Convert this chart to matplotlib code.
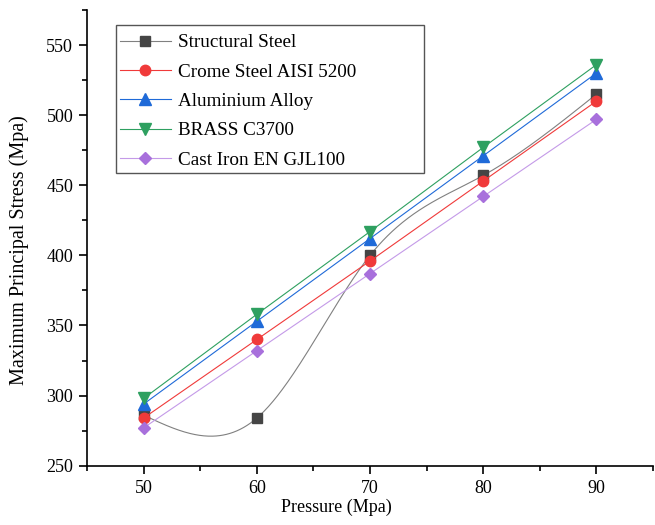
import numpy as np
import matplotlib
matplotlib.use("Agg")
import matplotlib.pyplot as plt
from matplotlib.patches import Rectangle
from matplotlib.ticker import MultipleLocator

plt.rcParams['font.family'] = ['Liberation Serif', 'DejaVu Serif']

pressure = [50, 60, 70, 80, 90]
structural_steel = [286, 284, 400, 457, 515]
crome_steel = [284, 340, 396, 453, 510]
aluminium_alloy = [294, 353, 412, 471, 530]
brass_c3700 = [298, 358, 417, 477, 536]
cast_iron = [277, 332, 387, 442, 497]

labels = ["Structural Steel", "Crome Steel AISI 5200", "Aluminium Alloy",
          "BRASS C3700", "Cast Iron EN GJL100"]


def natural_spline(x, y, n=400):
    """Natural cubic spline through the given points."""
    x = np.asarray(x, float)
    y = np.asarray(y, float)
    k = len(x)
    h = np.diff(x)
    A = np.zeros((k, k))
    b = np.zeros(k)
    A[0, 0] = A[-1, -1] = 1.0
    for i in range(1, k - 1):
        A[i, i - 1] = h[i - 1]
        A[i, i] = 2 * (h[i - 1] + h[i])
        A[i, i + 1] = h[i]
        b[i] = 6 * ((y[i + 1] - y[i]) / h[i] - (y[i] - y[i - 1]) / h[i - 1])
    M = np.linalg.solve(A, b)
    xs = np.linspace(x[0], x[-1], n)
    idx = np.clip(np.searchsorted(x, xs) - 1, 0, k - 2)
    x0, x1 = x[idx], x[idx + 1]
    hh = x1 - x0
    t0 = x1 - xs
    t1 = xs - x0
    ys = (M[idx] * t0 ** 3 / (6 * hh) + M[idx + 1] * t1 ** 3 / (6 * hh)
          + (y[idx] / hh - M[idx] * hh / 6) * t0
          + (y[idx + 1] / hh - M[idx + 1] * hh / 6) * t1)
    return xs, ys


W, H = 655, 525
fig = plt.figure(figsize=(W / 100, H / 100), dpi=100)
ax = fig.add_axes([0.133, 0.113, 0.864, 0.868])

c_black = "#454545"
c_red = "#f03a3a"
c_blue = "#1f6ad8"
c_green = "#2ea060"
c_purple = "#a870dc"

lw = 0.8
ms = 7.5

# Structural steel drawn as a smooth curve through its points
xs, ys = natural_spline(pressure, structural_steel)
ax.plot(xs, ys, color="#808080", lw=lw, zorder=2)
ax.plot(pressure, structural_steel, ls="none", marker="s", ms=ms - 0.5,
        color=c_black, zorder=3)
h_ss, = ax.plot([], [], color="#808080", lw=lw, marker="s", ms=ms - 0.5,
                mfc=c_black, mec=c_black)

h_cr, = ax.plot(pressure, crome_steel, color=c_red, lw=lw,
                marker="o", ms=ms, zorder=3)
h_al, = ax.plot(pressure, aluminium_alloy, color=c_blue, lw=lw,
                marker="^", ms=ms + 0.5, zorder=3)
h_br, = ax.plot(pressure, brass_c3700, color=c_green, lw=lw,
                marker="v", ms=ms + 0.5, zorder=3)
h_ci, = ax.plot(pressure, cast_iron, color="#c49ae8", lw=lw,
                marker="D", ms=ms - 1, mfc=c_purple, mec=c_purple, zorder=3)

ax.set_xlim(45, 95)
ax.set_ylim(250, 575)
ax.xaxis.set_major_locator(MultipleLocator(10))
ax.xaxis.set_minor_locator(MultipleLocator(5))
ax.yaxis.set_major_locator(MultipleLocator(50))
ax.yaxis.set_minor_locator(MultipleLocator(25))

for side in ("top", "right"):
    ax.spines[side].set_visible(False)
for side in ("left", "bottom"):
    ax.spines[side].set_linewidth(1.2)

ax.tick_params(which="major", direction="out", length=6, width=1.2,
               labelsize=13, pad=4)
ax.tick_params(which="minor", direction="out", length=3.5, width=1.2)

ax.set_xlabel("Pressure (Mpa)", fontsize=13)
ax.xaxis.set_label_coords(0.441, -0.072)
ax.set_ylabel("Maximum Principal Stress (Mpa)", fontsize=14.5)
ax.yaxis.set_label_coords(-0.103, 0.474)

# Legend box with a wide right margin
frame = Rectangle((116 / W, 1 - 173 / H), (424 - 116) / W, (173 - 25) / H,
                  transform=fig.transFigure, facecolor="white",
                  edgecolor="#555555", lw=1.0, zorder=4)
fig.patches.append(frame)

leg = fig.legend([h_ss, h_cr, h_al, h_br, h_ci], labels,
                 loc="upper left", bbox_to_anchor=(120 / W, 1 - 34 / H),
                 fontsize=13.8, frameon=False, handlelength=2.65,
                 handletextpad=0.35, labelspacing=0.62, borderpad=0,
                 borderaxespad=0)
leg.set_zorder(5)

fig.savefig("out.png", dpi=100)
